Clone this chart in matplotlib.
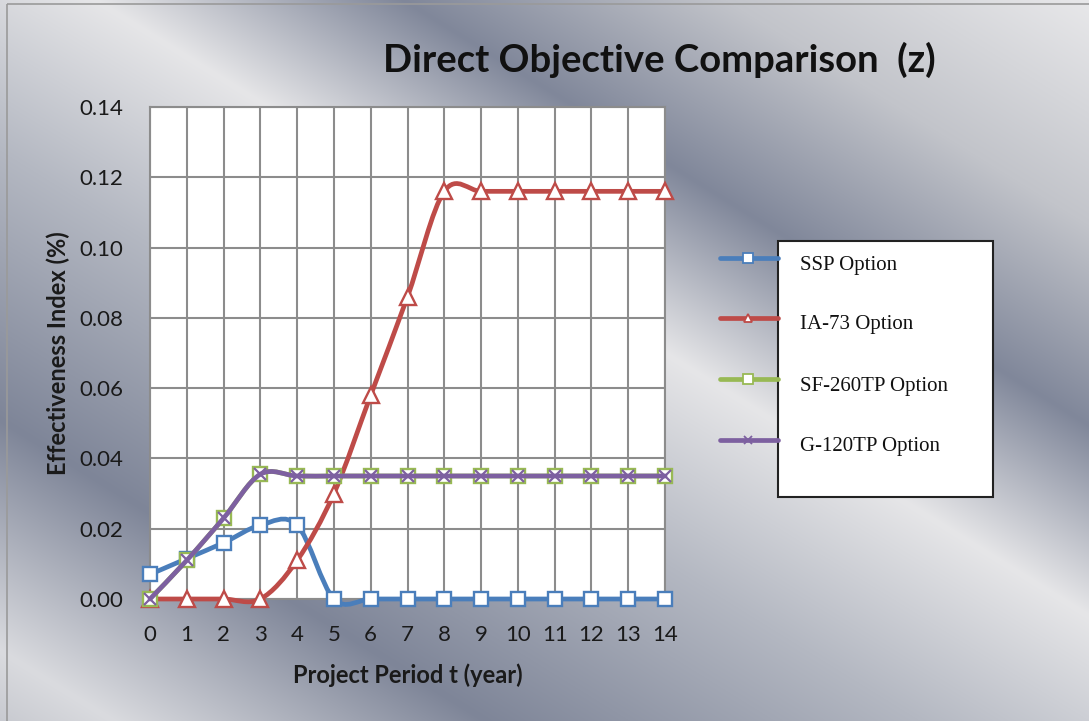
import numpy as np
import matplotlib
matplotlib.use("Agg")
import matplotlib.pyplot as plt
from matplotlib.path import Path
from matplotlib.patches import PathPatch, Rectangle
from matplotlib.lines import Line2D

# data
years = list(range(15))
ssp = [0.007, 0.0115, 0.016, 0.021, 0.021, 0, 0, 0, 0, 0, 0, 0, 0, 0, 0]
ia73 = [0, 0, 0, 0, 0.011, 0.030, 0.058, 0.086, 0.116, 0.116, 0.116, 0.116, 0.116, 0.116, 0.116]
sf260 = [0, 0.011, 0.023, 0.0355, 0.035, 0.035, 0.035, 0.035, 0.035, 0.035, 0.035, 0.035, 0.035, 0.035, 0.035]
g120 = [0, 0.011, 0.023, 0.0355, 0.035, 0.035, 0.035, 0.035, 0.035, 0.035, 0.035, 0.035, 0.035, 0.035, 0.035]

names = ["SSP Option", "IA-73 Option", "SF-260TP Option", "G-120TP Option"]
series = [ssp, ia73, sf260, g120]
colors = ["#4a7ebb", "#be4b48", "#98b954", "#7d60a0"]
markers = ["s", "^", "s", "x"]

W, H = 1089, 721
fig = plt.figure(figsize=(W / 100, H / 100), dpi=100)

# metallic background
bg = fig.add_axes([0, 0, 1, 1], zorder=-10)
xx, yy = np.meshgrid(np.arange(W), np.arange(H))
d = 0.62 * xx - yy
stops = [-721, -650, -420, -150, 60, 250, 450, 675]
cols = ["#c8cad0", "#dadbdf", "#7e8598", "#b4b8c2", "#e6e6e8", "#80879a", "#c2c4ca", "#e8e8ea"]
rgb = np.array([matplotlib.colors.to_rgb(c) for c in cols])
img = np.dstack([np.interp(d, stops, rgb[:, k]) for k in range(3)])
bg.imshow(img, aspect="auto", extent=[0, W, H, 0])
bg.set_xlim(0, W)
bg.set_ylim(H, 0)
bg.axis("off")
bg.add_patch(Rectangle((7, 4), W, H, fill=False, ec="#9a9a9a", lw=1.2))


def px(x, y):
    return x / W, 1 - y / H


ax = fig.add_axes([150 / W, 1 - 599 / H, 515 / W, 492 / H])
ax.set_facecolor("white")
ax.set_xlim(0, 14)
ax.set_ylim(0, 0.14)
ax.set_xticks(years)
ax.set_yticks(np.arange(0, 0.141, 0.02))
ax.yaxis.set_major_formatter(matplotlib.ticker.FormatStrFormatter("%.2f"))
ax.grid(True, color="#8c8c8c", lw=1.5)
ax.set_axisbelow(True)
for s in ax.spines.values():
    s.set_color("#8c8c8c")
    s.set_linewidth(1.5)
ax.tick_params(length=0, labelsize=16, labelcolor="#1a1a1a")
ax.tick_params(axis="y", pad=19)
ax.tick_params(axis="x", pad=19)
for lab in ax.get_xticklabels() + ax.get_yticklabels():
    lab.set_family("Lato")


def smooth_path(xs, ys):
    # Excel style smoothed line: Catmull-Rom turned into cubic Bezier segments
    pts = np.column_stack([xs, ys]).astype(float)
    verts = [pts[0]]
    codes = [Path.MOVETO]
    n = len(pts)
    for i in range(n - 1):
        p0 = pts[max(i - 1, 0)]
        p1 = pts[i]
        p2 = pts[i + 1]
        p3 = pts[min(i + 2, n - 1)]
        verts += [p1 + (p2 - p0) / 6, p2 - (p3 - p1) / 6, p2]
        codes += [Path.CURVE4] * 3
    return Path(verts, codes)


for i, (vals, c, m) in enumerate(zip(series, colors, markers)):
    ax.add_patch(PathPatch(smooth_path(years, vals), fill=False, ec=c, lw=3.4,
                           zorder=3 + i, clip_on=False, capstyle="round"))
    if m == "x":
        ax.plot(years, vals, ls="none", marker="x", ms=9, mew=1.6, color=c,
                zorder=3.5 + i, clip_on=False)
    else:
        ax.plot(years, vals, ls="none", marker=m, ms=10 if m == "s" else 11,
                mfc="white", mec=c, mew=1.7, zorder=3.5 + i, clip_on=False)

ax.set_xlabel("Project Period t (year)", fontsize=17, weight="bold", family="Lato", color="#1a1a1a")
ax.set_ylabel("Effectiveness Index (%)", fontsize=17, weight="bold", family="Lato", color="#1a1a1a")
ax.xaxis.set_label_coords(0.501, -0.130)
ax.yaxis.set_label_coords(-0.155, 0.5)

fig.text(*px(659, 60), "Direct Objective Comparison  (z)", ha="center", va="center",
         fontsize=27.5, weight="bold", family="Lato", color="#111111")

# legend: markers outside, text inside a framed box
x0, y0 = px(778, 497)
x1, y1 = px(993, 241)
fig.add_artist(Rectangle((x0, y0), x1 - x0, y1 - y0, transform=fig.transFigure,
                         fc="white", ec="#222222", lw=1.5))
leg_y = [258, 318, 379, 440]
for name, c, m, ly in zip(names, colors, markers, leg_y):
    xa, ya = px(720, ly)
    xb, _ = px(778, ly)
    fig.add_artist(Line2D([xa, xb], [ya, ya], transform=fig.transFigure, color=c,
                          lw=3.4, solid_capstyle="round"))
    xm, _ = px(748, ly)
    if m == "x":
        fig.add_artist(Line2D([xm], [ya], transform=fig.transFigure, ls="none",
                              marker="x", ms=6, mew=1.3, color=c))
    else:
        fig.add_artist(Line2D([xm], [ya], transform=fig.transFigure, ls="none",
                              marker=m, ms=7 if m == "s" else 6, mfc="white", mec=c, mew=1.3))
    fig.text(*px(800, ly + 7), name, ha="left", va="center", fontsize=15,
             family="Liberation Serif", color="#111111")

fig.savefig("out.png", dpi=100)
